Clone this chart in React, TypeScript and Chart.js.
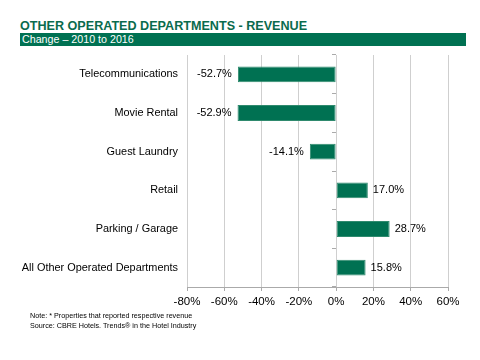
import React, { useEffect, useRef } from "react";
import { Chart, registerables } from "chart.js";

Chart.register(...registerables);

const categories = [
  "Telecommunications",
  "Movie Rental",
  "Guest Laundry",
  "Retail",
  "Parking / Garage",
  "All Other Operated Departments",
];
const changeValues = [-52.7, -52.9, -14.1, 17.0, 28.7, 15.8];
const xTicks = [-80, -60, -40, -20, 0, 20, 40, 60];

const titleText = "OTHER OPERATED DEPARTMENTS - REVENUE";
const subtitleText = "Change \u2013 2010 to 2016";
const noteLines = [
  "Note: * Properties that reported respective revenue",
  "Source: CBRE Hotels. Trends\u00AE in the Hotel Industry",
];

const GREEN = "#007152";
const FONT = "'Liberation Sans', Arial, Helvetica, sans-serif";

const valueLabelPlugin = {
  id: "valueLabels",
  afterDatasetsDraw(chart: any) {
    const ctx = chart.ctx;
    const meta = chart.getDatasetMeta(0);
    const data = chart.data.datasets[0].data as number[];
    ctx.save();
    ctx.font = `11px ${FONT}`;
    ctx.fillStyle = "#000";
    ctx.textBaseline = "middle";
    meta.data.forEach((el: any, i: number) => {
      const v = data[i];
      const txt = v.toFixed(1) + "%";
      if (v < 0) {
        ctx.textAlign = "right";
        ctx.fillText(txt, el.x - 6, el.y);
      } else {
        ctx.textAlign = "left";
        ctx.fillText(txt, el.x + 5, el.y);
      }
    });
    ctx.restore();
  },
};

export default function App() {
  const canvasRef = useRef<HTMLCanvasElement | null>(null);

  useEffect(() => {
    if (!canvasRef.current) return;
    const chart = new Chart(canvasRef.current, {
      type: "bar",
      data: {
        labels: categories,
        datasets: [
          {
            data: changeValues,
            backgroundColor: GREEN,
            borderColor: "#2f8a6e",
            borderWidth: 1,
            borderSkipped: false,
            categoryPercentage: 1,
            barPercentage: 0.41,
          },
        ],
      },
      options: {
        indexAxis: "y",
        responsive: false,
        animation: false,
        layout: { padding: { top: 55, left: 0, right: 32, bottom: 43 } },
        plugins: {
          legend: { display: false },
          tooltip: { enabled: false },
        },
        scales: {
          x: {
            type: "linear",
            min: xTicks[0],
            max: xTicks[xTicks.length - 1],
            afterBuildTicks: (scale: any) => {
              scale.ticks = xTicks.map((v) => ({ value: v }));
            },
            afterFit: (scale: any) => {
              scale.height = 30;
            },
            grid: {
              color: "#cfcfcf",
              lineWidth: 1,
              tickLength: 4,
              tickColor: "#aaaaaa",
            },
            border: { display: true, color: "#aaaaaa" },
            ticks: {
              font: { family: FONT, size: 11.5 },
              color: "#000",
              padding: 4,
              callback: (v: any) => v + "%",
            },
          },
          y: {
            type: "category",
            afterFit: (scale: any) => {
              scale.width = 187;
            },
            grid: { display: false, drawTicks: false, tickLength: 0 },
            border: { display: false },
            ticks: {
              font: { family: FONT, size: 10.9 },
              color: "#000",
              padding: 9,
            },
          },
          y2: {
            type: "category",
            labels: categories,
            position: { x: 0 } as any,
            grid: {
              drawOnChartArea: false,
              offset: true,
              tickLength: 4,
              color: "#aaaaaa",
            },
            border: { display: false },
            ticks: { display: false },
          },
        },
      } as any,
      plugins: [valueLabelPlugin],
    });
    return () => chart.destroy();
  }, []);

  return (
    <div
      style={{
        position: "absolute",
        left: 0,
        top: 0,
        width: 480,
        height: 360,
        background: "#fff",
        fontFamily: FONT,
        overflow: "hidden",
      }}
    >
      <div
        style={{
          position: "absolute",
          left: 20,
          top: 18,
          fontSize: 12.6,
          fontWeight: "bold",
          color: "#0a6b4d",
          whiteSpace: "nowrap",
          lineHeight: "16px",
        }}
      >
        {titleText}
      </div>
      <div
        style={{
          position: "absolute",
          left: 20,
          top: 33,
          width: 446,
          height: 13,
          background: GREEN,
          color: "#fff",
          fontSize: 10.7,
          lineHeight: "13px",
          paddingLeft: 2,
          boxSizing: "border-box",
          whiteSpace: "nowrap",
        }}
      >
        {subtitleText}
      </div>
      <canvas
        ref={canvasRef}
        width={480}
        height={360}
        style={{ position: "absolute", left: 0, top: 0, width: 480, height: 360 }}
      />
      <div
        style={{
          position: "absolute",
          left: 30,
          top: 311,
          fontSize: 7.2,
          lineHeight: "10px",
          color: "#000",
          whiteSpace: "nowrap",
        }}
      >
        {noteLines.map((l, i) => (
          <div key={i}>{l}</div>
        ))}
      </div>
    </div>
  );
}
